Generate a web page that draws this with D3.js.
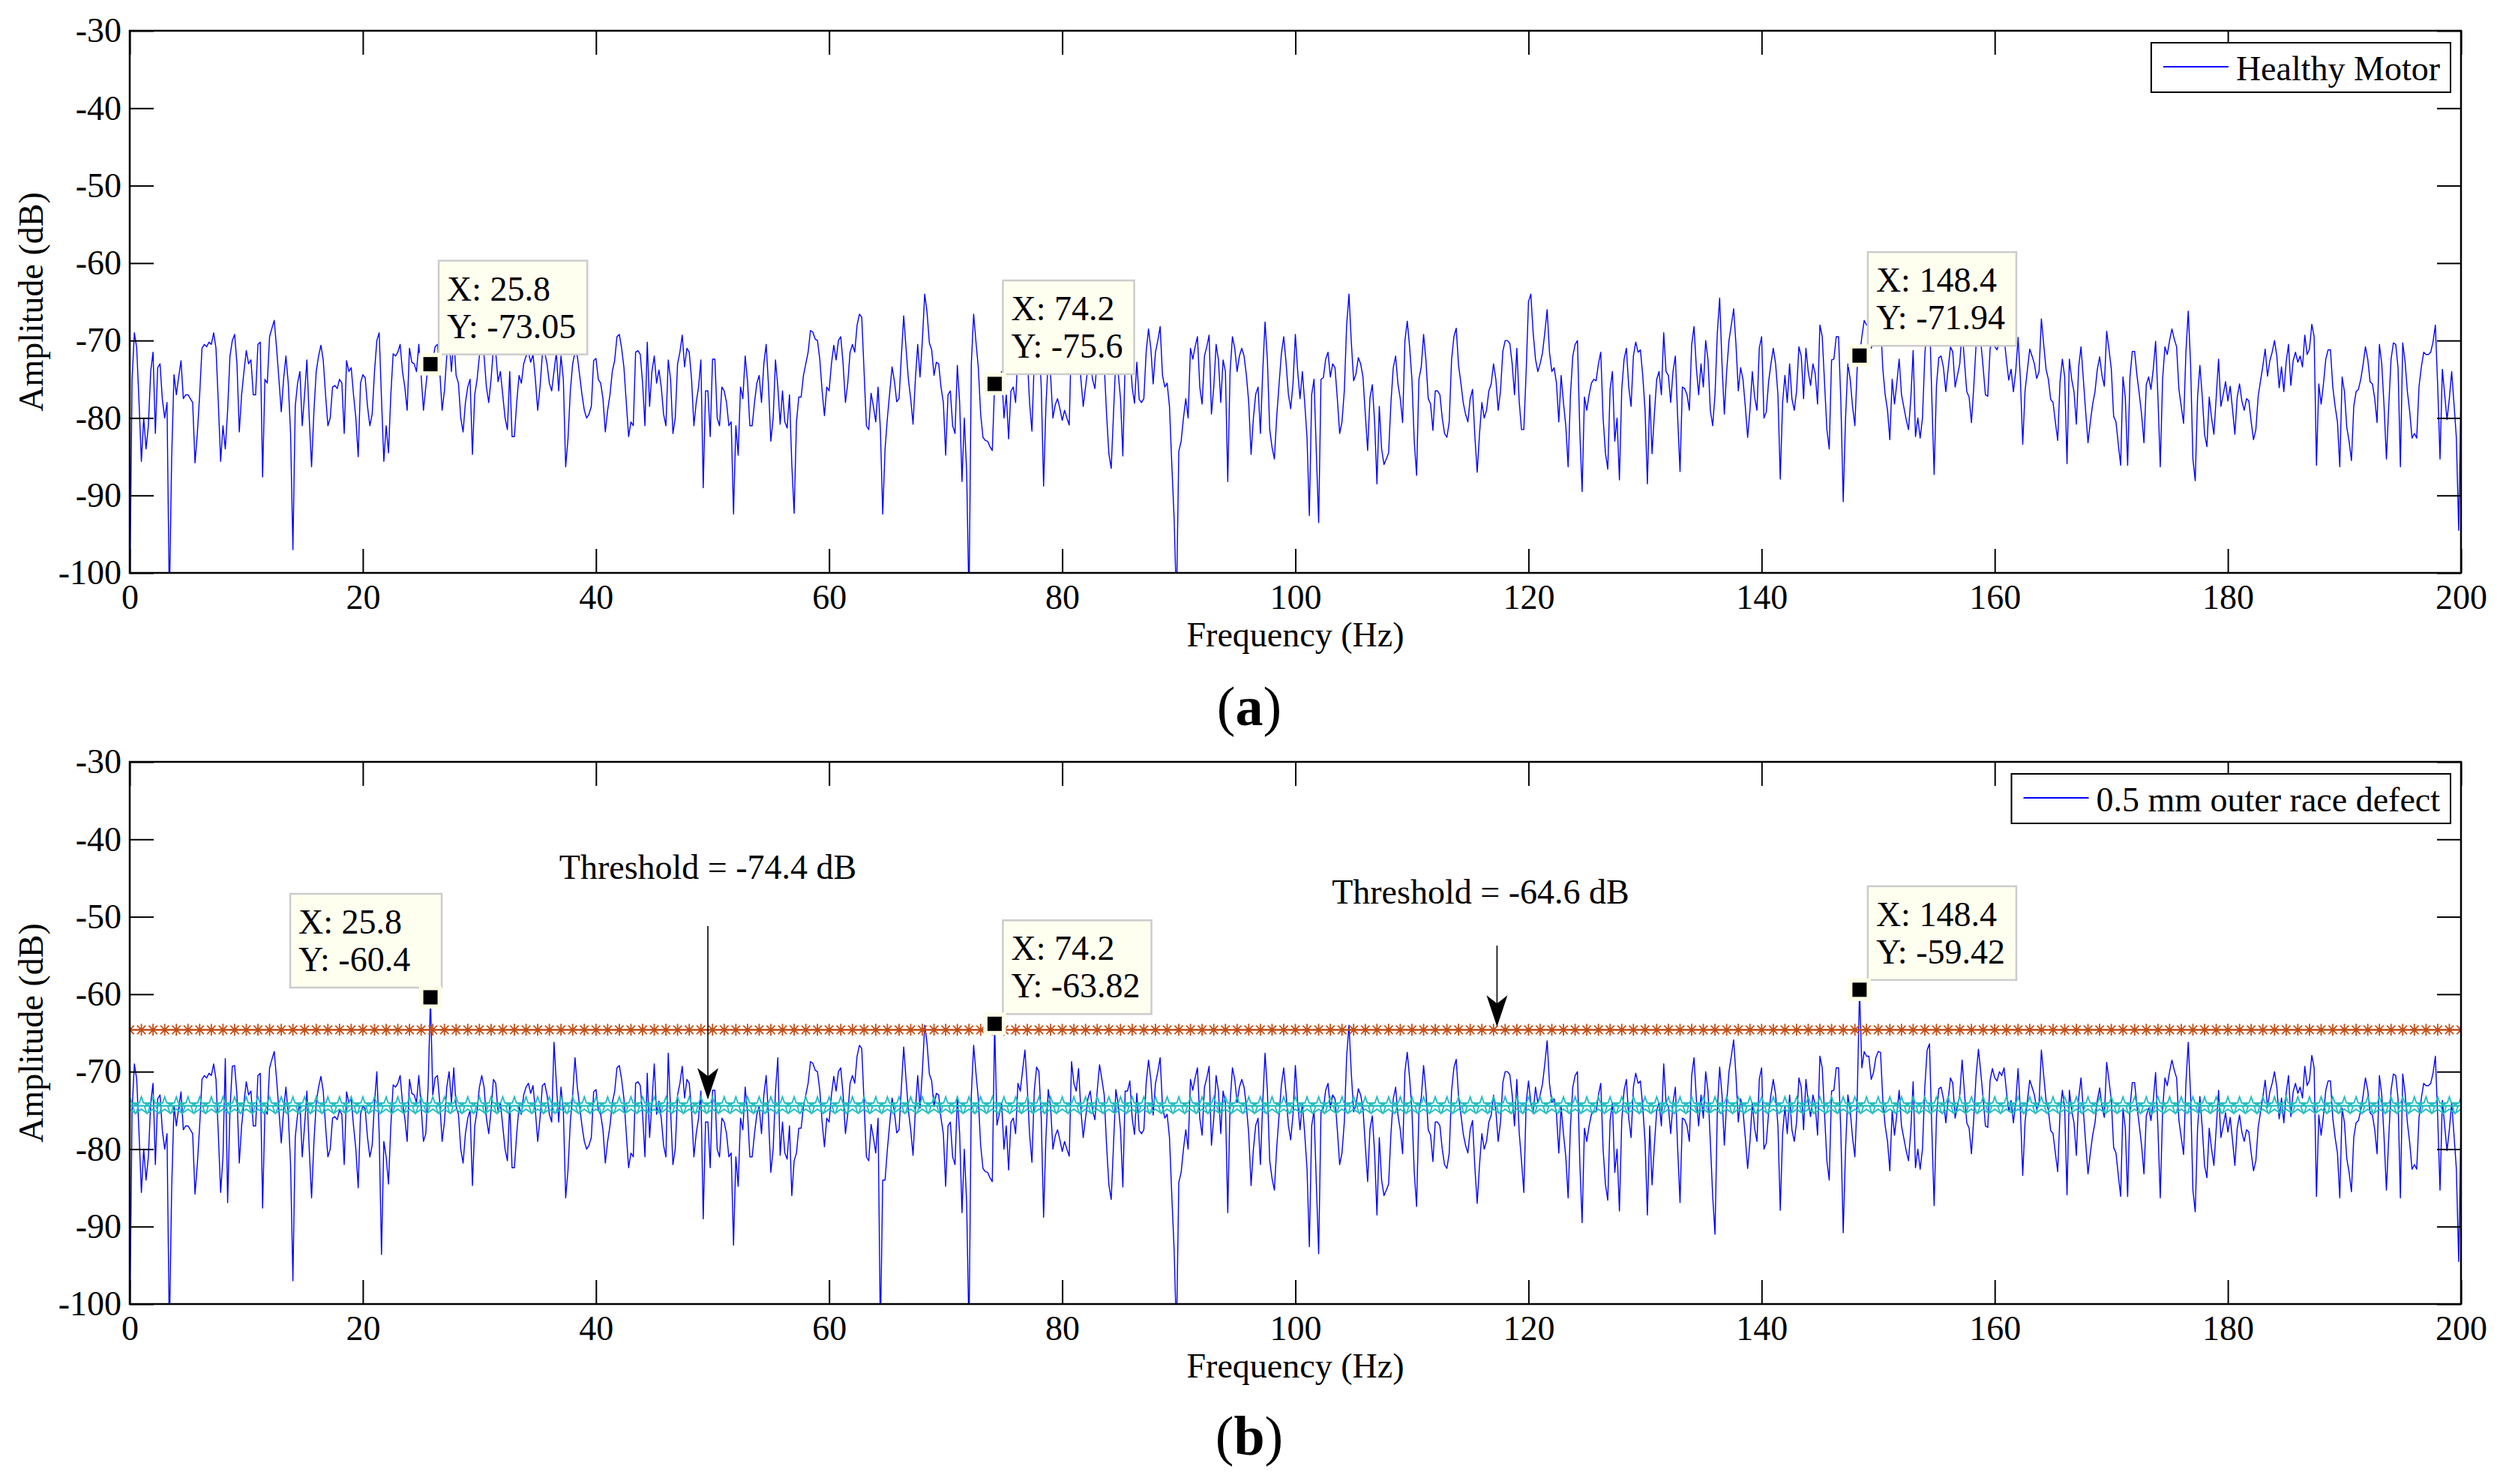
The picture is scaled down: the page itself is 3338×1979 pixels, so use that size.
<!DOCTYPE html>
<html>
<head>
<meta charset="utf-8">
<script src="https://cdn.jsdelivr.net/npm/d3@7"></script>
<style>
  body { margin: 0; background: #fff; }
  svg { display: block; font-family: "Liberation Serif", "Times New Roman", serif; }
</style>
</head>
<body>
<svg id="chart" width="3338" height="1979"></svg>
<script>
// Spectrum of the healthy motor, one value every 0.2 Hz from 0 to 200 Hz (dB)
const healthyDb = [
  -104,-75,-69,-71,-78,-85.6,-80,-84,-81,-74,-71.5,-82,-73.5,-73,-77.6,-80,-78,-104,-85,-74.4,
  -77,-74.7,-72.6,-77.5,-77,-77,-77.5,-78,-85.8,-82,-77,-71,-70.5,-70.8,-70.2,-70.5,-69,-71,-78,-85.6,
  -81,-84,-79,-72,-70,-69.2,-73,-81.8,-77,-74,-71.3,-73,-72.5,-77,-77,-70.5,-70.2,-87.6,-75,-75.5,
  -69.5,-68.4,-67.4,-71,-75,-79.2,-75,-72,-75.5,-82,-97,-78.5,-75.5,-74,-81,-77,-72.5,-80,-86.3,-79.2,
  -74,-72,-70.6,-72.5,-77,-81,-80,-76,-75.8,-76.2,-75,-75.5,-82,-72.6,-74,-73.5,-77,-80,-85,-75.5,
  -74.4,-74.8,-78.5,-81,-79.5,-74,-70,-69,-77.5,-85.6,-81,-84.5,-77,-71.7,-72,-71.5,-70.5,-74,-76,-79,
  -71,-72.8,-73,-74,-70.5,-74.5,-79,-76,-73,-73.05,-72.5,-70.8,-70.5,-74,-79,-76.5,-72,-70,-74,-69.5,
  -74.5,-75.5,-80,-81.8,-78,-76,-75,-84.7,-77,-75,-72,-70.5,-72,-76,-78,-75,-71,-71.5,-75.3,-74,
  -77,-80,-81.5,-74,-82.4,-82.4,-78,-74.5,-75.5,-73,-72,-71.5,-72.8,-71.8,-75,-79,-76,-71.8,-71.5,-73,
  -75.5,-76.5,-74,-71.5,-76.5,-72,-75,-86.3,-82.7,-76.5,-73,-71.5,-72,-74.5,-77,-79,-80,-79.5,-78.5,-72.6,
  -72.3,-75,-75.5,-77.5,-81.8,-79,-77,-74,-72.6,-69.5,-69.2,-71,-73.5,-78,-82.4,-80.5,-81,-71.5,-71.3,-71.8,
  -75.5,-81,-70.2,-78.5,-74,-72,-75.5,-73.8,-76,-79.5,-81,-72.5,-75,-82,-80,-73,-71.5,-69.3,-73.4,-71,
  -71.5,-75,-81,-78,-76,-72.5,-89,-76.5,-76.5,-82.4,-72.4,-72.4,-80,-81,-76,-76.5,-78,-81,-80.5,-92.4,
  -81,-84.8,-76,-77.5,-72,-75.2,-81,-81,-78,-75.5,-74.5,-78,-73,-70.5,-75.8,-83,-80,-72.5,-76,-80.8,
  -76.5,-80.5,-81.3,-77,-86,-92.3,-80.5,-77.3,-77.3,-74.5,-73,-71.5,-68.7,-68.9,-69.8,-70,-72.4,-76.5,-79.7,-76,
  -76.5,-73,-70.6,-72.5,-70,-69.5,-73,-78,-75.5,-71.5,-70.5,-71.5,-68,-66.6,-67,-74,-81,-81.5,-76.8,-78.5,
  -80.5,-76,-81.5,-92.4,-84,-80,-76.7,-73.4,-75.2,-77.9,-77.5,-72,-66.8,-71,-75,-77.5,-80.8,-75,-70.5,-74.7,
  -70,-64,-66.3,-70.3,-71.2,-74.5,-72.8,-73,-76,-78,-84.8,-77,-76.5,-81,-82,-73.2,-78,-88.2,-80,-87,
  -104,-73,-66.6,-70.2,-73.5,-79.5,-82.5,-82.9,-83,-83.7,-84.2,-75.6,-76.9,-75.5,-74,-80,-77,-82.7,-76.5,-76,
  -78,-71.5,-72.5,-69.8,-67.2,-72,-78.1,-81.7,-72.5,-69.4,-70,-76,-88.8,-78.5,-72.3,-74.5,-80,-78.3,-77.5,-78.8,
  -80.3,-79,-80,-80.9,-68.7,-71.5,-72.5,-69.6,-75,-78.5,-76,-73.5,-72.5,-75,-76.2,-72.5,-69.1,-71,-73,-79.4,
  -84.6,-86.5,-79.4,-72.3,-74.2,-77.5,-84.9,-72.5,-72.5,-71.2,-76,-78.1,-72.8,-77.6,-78,-77.5,-71.5,-68.5,-71,-75.6,
  -71.5,-70,-68.2,-74.5,-76,-75.5,-78.5,-86,-93,-104,-84.3,-83,-80,-77.5,-80,-71,-72.4,-70.8,-69.5,-76,
  -78.2,-72,-70.8,-69.3,-79.5,-76,-70.5,-72.5,-78,-72.5,-74,-88.2,-74,-69.5,-71,-74,-72,-71,-72,-74.5,
  -78,-84.7,-80,-76.9,-76,-82,-74,-67.6,-72.5,-81.5,-83.8,-85.3,-79.8,-75.7,-71.7,-69.5,-72.8,-76.9,-78.8,-75.5,
  -69.2,-74,-77.5,-74,-78,-82.5,-92.6,-77,-75,-84.5,-93.5,-75,-74.8,-72.4,-71.5,-74.7,-73,-73.5,-77.5,-82,
  -80.5,-76.5,-68,-64,-70.2,-75.2,-74.3,-72.2,-73,-74.7,-79.5,-84.2,-77.4,-75.7,-80.5,-88.5,-78.5,-84,-86,-85.3,
  -84.5,-78,-73.5,-72,-75.6,-77.5,-80.6,-70,-67.5,-70.8,-75,-83,-87.4,-75,-73.4,-69.2,-72.5,-77.5,-78.2,-81.6,
  -76.5,-76.5,-77,-80,-82,-82.5,-80.5,-72.5,-69.5,-68.4,-73.2,-75.5,-78,-79.5,-80.5,-77.5,-76.3,-82.4,-87,-82,
  -78,-80,-79,-76.5,-75.6,-73,-75,-79,-76.5,-71.4,-70,-70,-70.4,-73,-77,-71,-77.8,-81.5,-81.5,-74,
  -65,-64,-69,-72.4,-74,-73,-71.6,-69,-66,-71.5,-74,-73.5,-75.5,-80.5,-74.5,-78,-81,-86.3,-77,-72,
  -70.5,-70,-81.6,-89.5,-77.3,-79,-77,-75.5,-75,-75.2,-73,-71.5,-80,-84.5,-86.6,-76.3,-74,-83,-80,-88,
  -76.3,-72.4,-71,-76,-78.5,-72,-70.2,-71.5,-71.2,-74.5,-79,-88.5,-77,-84.6,-79.5,-75,-74,-77,-69,-74,
  -74.5,-78,-74,-72,-80,-86.9,-76,-76.2,-77,-79,-70.5,-68.2,-73.5,-77,-73,-76,-70,-72.5,-79,-81,
  -77,-69,-64.5,-73,-79.5,-74,-70,-68,-65.9,-70.5,-76.5,-73.5,-75,-78.5,-82.5,-79,-74,-77.3,-79,-71,
  -69.5,-80,-79.2,-75.3,-73,-71,-73,-77,-87.9,-78,-74.5,-78,-73,-77.5,-79,-76.5,-70.8,-72,-77.5,-71,
  -74,-75.8,-73,-74.3,-78.2,-68,-69.5,-75.5,-81.5,-84,-72.5,-72.4,-69.5,-69.5,-78,-90.8,-80,-73,-75,-78.5,
  -81,-73.5,-71.94,-69.5,-67.4,-68,-68,-71,-70.1,-68.2,-67.4,-67.5,-73.7,-77,-79,-82.8,-75,-78.2,-75.5,-72.4,
  -77,-78.6,-80.2,-81.5,-77.5,-71.3,-82.4,-80,-82.6,-80,-72,-67.2,-66.4,-77.3,-87.3,-75.8,-72.2,-72,-73.5,-76.6,
  -73.7,-70.8,-71.5,-76,-74.5,-73,-68.5,-72.7,-76.6,-77.3,-80.6,-76,-70.5,-67.1,-70.1,-73.4,-77,-77.2,-71.1,-69.6,
  -70.8,-71.2,-70,-70.5,-69.5,-72.5,-75.1,-73.7,-76.6,-74,-69.6,-75,-83.4,-76.5,-73.8,-71.1,-72,-73,-74.9,-74,
  -67.2,-70.5,-73.7,-75,-77.6,-78,-80.5,-82.9,-75.3,-72.4,-74.7,-85.9,-72.4,-75,-76.6,-80.8,-73.4,-70.8,-75,-79.2,
  -83.2,-80.5,-78.2,-76.6,-73.7,-72.1,-74.5,-75.9,-68.8,-71.1,-73.7,-79.8,-80.5,-83.4,-86.1,-74.7,-77.3,-86.1,-74.7,-71.4,
  -71.4,-74.5,-76.9,-79.6,-83.2,-75.7,-74.7,-76.3,-73.7,-70.1,-77.3,-86.3,-75,-70.8,-71.8,-70,-68.5,-69.8,-70.8,-76.3,
  -78.5,-80.7,-71.5,-66.2,-73,-85.3,-88.1,-77.3,-73.2,-77.2,-82.1,-83.7,-77.3,-80,-82.1,-77.3,-72.4,-78.5,-77,-75.3,
  -77.8,-75.9,-78.9,-82.1,-77.3,-75.6,-77.8,-79,-77.5,-77.8,-80.5,-82.8,-81.5,-77.2,-75.2,-73.3,-71.1,-74.6,-72.6,-71.5,
  -70,-72,-76.1,-73.4,-76.6,-72.8,-70.5,-75.8,-72.6,-71.5,-72.8,-72,-73.4,-69.3,-71.8,-71.1,-67.9,-69.5,-86.1,-75.6,
  -78.2,-75.6,-72.4,-71.2,-71.2,-76,-78.5,-80.5,-86.3,-74.7,-76.6,-81.2,-83,-85.5,-78.5,-76.6,-76.3,-75,-73.1,-70.8,
  -72.4,-75.3,-75.6,-77.5,-80.6,-70.5,-73,-78.5,-85.3,-78.5,-72.4,-70.3,-70.5,-73.5,-86.3,-70.3,-72.7,-76.6,-79.2,-82.6,
  -82,-82.6,-75.9,-73.4,-71.5,-71.8,-71.8,-71.5,-70.2,-68,-75.9,-85.3,-73.7,-77,-80.2,-77.5,-74,-78.2,-82.5,-94.5,
  -76.9
];

// Where the 0.5 mm outer race defect spectrum differs: [sample index, dB]
const defectChanges = [
  [41, -68.3], [42, -86.9], [43, -75], [44, -69.3],
  [107, -78], [108, -93.6], [109, -79],
  [127, -78], [128, -72], [129, -60.4], [130, -73],
  [182, -66.2], [191, -68.2], [225, -69], [231, -67.6],
  [278, -68.2], [285, -81.5], [322, -104], [323, -84],
  [371, -63.82],
  [598, -85.6], [600, -71.2], [601, -74], [602, -75.4], [603, -72],
  [679, -86], [680, -91], [681, -75], [682, -69.4],
  [742, -59.42]
];

const freqStep = 0.2;
const freqTicks = [0, 20, 40, 60, 80, 100, 120, 140, 160, 180, 200];
const ampTicks = [-30, -40, -50, -60, -70, -80, -90, -100];

// data tips [X, Y]
const healthyTips = [[25.8, -73.05], [74.2, -75.6], [148.4, -71.94]];
const defectTips = [[25.8, -60.4], [74.2, -63.82], [148.4, -59.42]];

// thresholds for the defect panel (dB) and where their arrows point (Hz)
const thresholdValues = [-74.4, -64.6];
const thresholdArrowFreq = [49.6, 117.3];

const defectDb = healthyDb.slice();
defectChanges.forEach(([i, v]) => { defectDb[i] = v; });

const svg = d3.select("#chart");
const plotLeft = 173, plotRight = 3282;
const x = d3.scaleLinear().domain([0, 200]).range([plotLeft, plotRight]);
const fontSize = 46;
const plainNum = d => `${d}`;   // keep the ASCII hyphen of the original

function drawPanel(p) {
    const g = svg.append("g");
    const y = d3.scaleLinear().domain([-100, -30]).range([p.bottom, p.top]);

    svg.append("clipPath").attr("id", "clip" + p.id)
        .append("rect")
        .attr("x", plotLeft).attr("y", p.top)
        .attr("width", plotRight - plotLeft).attr("height", p.bottom - p.top);

    const plot = g.append("g").attr("clip-path", `url(#clip${p.id})`);

    plot.append("path")
        .datum(p.values)
        .attr("d", d3.line().x((d, i) => x(i * freqStep)).y(d => y(d)))
        .attr("fill", "none")
        .attr("stroke", "#0000ff")
        .attr("stroke-width", 1.4)
        .attr("stroke-linejoin", "round");

    // threshold lines with markers every 1 Hz
    if (p.thresholds) {
        const markerFreqs = d3.range(0, 201, 1);
        const styles = [
            { color: "#20bdbd", symbol: d3.symbol(d3.symbolStar, 160)() },
            { color: "#c24e16", symbol: "M0,-8V8M-8,0H8M-5.7,-5.7L5.7,5.7M-5.7,5.7L5.7,-5.7" }
        ];
        thresholdValues.forEach((v, k) => {
            const st = styles[k];
            plot.append("line")
                .attr("x1", x(0)).attr("x2", x(200))
                .attr("y1", y(v)).attr("y2", y(v))
                .attr("stroke", st.color).attr("stroke-width", 2.2);
            plot.selectAll(null)
                .data(markerFreqs)
                .enter()
                .append("path")
                .attr("d", st.symbol)
                .attr("transform", f => `translate(${x(f)},${y(v)})`)
                .attr("fill", "none")
                .attr("stroke", st.color)
                .attr("stroke-width", 1.8);
        });
    }

    // axes with inward ticks on all four sides
    const styleAxis = a => {
        a.select(".domain").remove();
        a.attr("font-family", null).attr("font-size", fontSize);
        a.selectAll("line").attr("stroke", "#000").attr("stroke-width", 2);
        a.selectAll("text").attr("fill", "#000");
    };
    g.append("g").attr("transform", `translate(0,${p.bottom})`)
        .call(d3.axisBottom(x).tickValues(freqTicks).tickFormat(plainNum).tickSize(-32).tickPadding(15))
        .call(styleAxis);
    g.append("g").attr("transform", `translate(0,${p.top})`)
        .call(d3.axisTop(x).tickValues(freqTicks).tickSize(-32).tickFormat(""))
        .call(styleAxis);
    g.append("g").attr("transform", `translate(${plotLeft},0)`)
        .call(d3.axisLeft(y).tickValues(ampTicks).tickFormat(plainNum).tickSize(-32).tickPadding(11))
        .call(styleAxis);
    g.append("g").attr("transform", `translate(${plotRight},0)`)
        .call(d3.axisRight(y).tickValues(ampTicks).tickSize(-32).tickFormat(""))
        .call(styleAxis);

    g.append("rect")
        .attr("x", plotLeft).attr("y", p.top)
        .attr("width", plotRight - plotLeft).attr("height", p.bottom - p.top)
        .attr("fill", "none").attr("stroke", "#000").attr("stroke-width", 2.5);

    // axis titles
    g.append("text")
        .attr("x", (plotLeft + plotRight) / 2).attr("y", p.bottom + 98)
        .attr("text-anchor", "middle").attr("font-size", fontSize)
        .text("Frequency (Hz)");
    g.append("text")
        .attr("transform", `translate(57,${(p.top + p.bottom) / 2}) rotate(-90)`)
        .attr("text-anchor", "middle").attr("font-size", fontSize)
        .text("Amplitude (dB)");

    // legend
    const lg = g.append("g");
    const lbox = lg.append("rect");
    const ltext = lg.append("text")
        .attr("x", 3254).attr("y", p.top + 66)
        .attr("text-anchor", "end").attr("font-size", fontSize)
        .text(p.legend);
    const tStart = 3254 - ltext.node().getComputedTextLength();
    lg.append("line")
        .attr("x1", tStart - 97).attr("x2", tStart - 10)
        .attr("y1", p.top + 48).attr("y2", p.top + 48)
        .attr("stroke", "#0000ff").attr("stroke-width", 2);
    lbox.attr("x", tStart - 113).attr("y", p.top + 16)
        .attr("width", 3268 - (tStart - 113)).attr("height", 66)
        .attr("fill", "#fff").attr("stroke", "#000").attr("stroke-width", 2);

    // threshold annotations
    if (p.thresholds) {
        const labelY = [p.top + 156, p.top + 189];
        const labelShift = [0, -22];
        const tailY = [p.top + 219, p.top + 245];
        const tipVal = [-73.6, -64.2];
        thresholdValues.forEach((v, k) => {
            const ax = x(thresholdArrowFreq[k]);
            const ay = y(tipVal[k]);
            g.append("text")
                .attr("x", ax + labelShift[k]).attr("y", labelY[k])
                .attr("text-anchor", "middle").attr("font-size", fontSize)
                .text(`Threshold = ${v} dB`);
            g.append("line")
                .attr("x1", ax).attr("x2", ax)
                .attr("y1", tailY[k]).attr("y2", ay - 30)
                .attr("stroke", "#000").attr("stroke-width", 1.6);
            g.append("path")
                .attr("d", `M${ax},${ay}L${ax - 14},${ay - 42}L${ax},${ay - 31}L${ax + 14},${ay - 42}Z`)
                .attr("fill", "#000");
        });
    }

    // data tips
    p.tips.forEach(([fx, fy], k) => {
        const mx = x(fx), my = y(fy);
        const tg = g.append("g");
        const box = tg.append("rect");
        const t1 = tg.append("text").attr("font-size", fontSize).text(`X: ${fx}`);
        const t2 = tg.append("text").attr("font-size", fontSize).text(`Y: ${fy}`);
        const w = Math.max(t1.node().getComputedTextLength(), t2.node().getComputedTextLength(), p.tipMinWidth[k]) + 26;
        const h = 125;
        const left = p.tipSide[k] > 0 ? mx + 11 : mx + 15 - w;
        const top = my - 13 - h;
        box.attr("x", left).attr("y", top).attr("width", w).attr("height", h)
            .attr("fill", "#fffff0").attr("stroke", "#cccccc").attr("stroke-width", 2.5);
        t1.attr("x", left + 11).attr("y", top + 53);
        t2.attr("x", left + 11).attr("y", top + 103);
        tg.append("rect")
            .attr("x", mx - 15).attr("y", my - 15).attr("width", 30).attr("height", 30)
            .attr("fill", "#fdfde6");
        tg.append("rect")
            .attr("x", mx - 9.5).attr("y", my - 9.5).attr("width", 19).attr("height", 19)
            .attr("fill", "#000");
    });

    // panel letter
    const letter = g.append("text")
        .attr("x", 1666).attr("y", p.letterY)
        .attr("text-anchor", "middle").attr("font-size", 74);
    letter.append("tspan").text("(");
    letter.append("tspan").attr("font-weight", "bold").text(p.letter);
    letter.append("tspan").text(")");
}

drawPanel({
    id: "a", top: 41, bottom: 764, values: healthyDb,
    legend: "Healthy Motor", tips: healthyTips, tipSide: [1, 1, 1], tipMinWidth: [0, 0, 0],
    thresholds: false, letter: "a", letterY: 967
});
drawPanel({
    id: "b", top: 1016, bottom: 1739, values: defectDb,
    legend: "0.5 mm outer race defect", tips: defectTips, tipSide: [-1, 1, 1], tipMinWidth: [176, 0, 0],
    thresholds: true, letter: "b", letterY: 1940
});
</script>
</body>
</html>
